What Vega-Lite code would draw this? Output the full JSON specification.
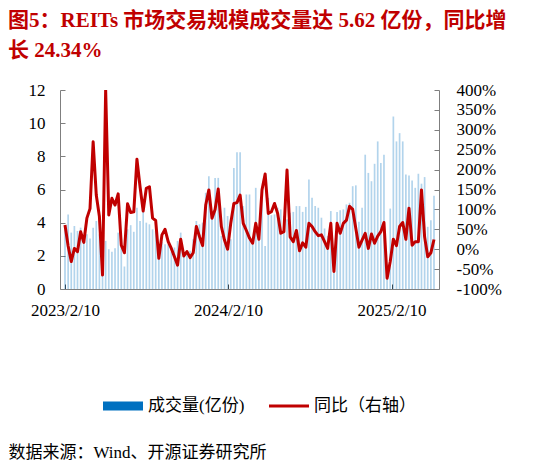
{
  "$schema": "https://vega.github.io/schema/vega-lite/v6.json",
  "width": 379,
  "height": 199,
  "autosize": {"type": "none"},
  "padding": {"left": 60, "top": 90, "right": 112, "bottom": 178},
  "background": "white",
  "title": {
    "text": ["图5：REITs 市场交易规模成交量达 5.62 亿份，同比增", "长 24.34%"],
    "anchor": "start",
    "frame": "group",
    "dx": -52,
    "offset": 20,
    "font": "Liberation Serif, Noto Sans CJK SC",
    "fontSize": 21,
    "fontWeight": "bold",
    "color": "#C00000",
    "lineHeight": 30
  },
  "data": {"values": [
    {"date": "2023-02-10", "vol": 3.6, "yoy": 61},
    {"date": "2023-02-17", "vol": 4.5, "yoy": 8},
    {"date": "2023-02-24", "vol": 3.4, "yoy": -31},
    {"date": "2023-03-03", "vol": 3.8, "yoy": 2},
    {"date": "2023-03-10", "vol": 3.5, "yoy": -6},
    {"date": "2023-03-17", "vol": 3.7, "yoy": 44},
    {"date": "2023-03-24", "vol": 3.2, "yoy": 17},
    {"date": "2023-03-31", "vol": 3.3, "yoy": 78},
    {"date": "2023-04-07", "vol": 3.05, "yoy": 102},
    {"date": "2023-04-14", "vol": 3.7, "yoy": 270},
    {"date": "2023-04-21", "vol": 4.1, "yoy": 136},
    {"date": "2023-04-28", "vol": 3.3, "yoy": 82},
    {"date": "2023-05-05", "vol": 2.6, "yoy": -65},
    {"date": "2023-05-12", "vol": 2.9, "yoy": 400},
    {"date": "2023-05-19", "vol": 2.4, "yoy": 86},
    {"date": "2023-05-26", "vol": 2.25, "yoy": 128},
    {"date": "2023-06-02", "vol": 2.45, "yoy": 111},
    {"date": "2023-06-09", "vol": 3.4, "yoy": 139},
    {"date": "2023-06-16", "vol": 3.0, "yoy": 10},
    {"date": "2023-06-23", "vol": 1.35, "yoy": -9},
    {"date": "2023-06-30", "vol": 3.6, "yoy": 114},
    {"date": "2023-07-07", "vol": 3.85, "yoy": 92},
    {"date": "2023-07-14", "vol": 3.45, "yoy": 94},
    {"date": "2023-07-21", "vol": 4.9, "yoy": 226},
    {"date": "2023-07-28", "vol": 4.1, "yoy": 157},
    {"date": "2023-08-04", "vol": 4.8, "yoy": 96},
    {"date": "2023-08-11", "vol": 4.0, "yoy": 153},
    {"date": "2023-08-18", "vol": 3.9, "yoy": 157},
    {"date": "2023-08-25", "vol": 3.6, "yoy": 78},
    {"date": "2023-09-01", "vol": 3.5, "yoy": 72},
    {"date": "2023-09-08", "vol": 2.45, "yoy": -23},
    {"date": "2023-09-15", "vol": 2.85, "yoy": 36},
    {"date": "2023-09-22", "vol": 2.7, "yoy": 50},
    {"date": "2023-09-29", "vol": 2.7, "yoy": 19},
    {"date": "2023-10-06", "vol": 2.25, "yoy": 2},
    {"date": "2023-10-13", "vol": 2.5, "yoy": -19},
    {"date": "2023-10-20", "vol": 2.9, "yoy": -40},
    {"date": "2023-10-27", "vol": 3.4, "yoy": 25},
    {"date": "2023-11-03", "vol": 2.0, "yoy": -17},
    {"date": "2023-11-10", "vol": 2.2, "yoy": -6},
    {"date": "2023-11-17", "vol": 2.3, "yoy": -21},
    {"date": "2023-11-24", "vol": 3.0, "yoy": -9},
    {"date": "2023-12-01", "vol": 4.1, "yoy": 57},
    {"date": "2023-12-08", "vol": 3.9, "yoy": 32},
    {"date": "2023-12-15", "vol": 4.0, "yoy": 9},
    {"date": "2023-12-22", "vol": 5.8, "yoy": 111},
    {"date": "2023-12-29", "vol": 6.8, "yoy": 149},
    {"date": "2024-01-05", "vol": 4.5, "yoy": 78},
    {"date": "2024-01-12", "vol": 6.7, "yoy": 100},
    {"date": "2024-01-19", "vol": 6.7, "yoy": 151},
    {"date": "2024-01-26", "vol": 3.2, "yoy": 57},
    {"date": "2024-02-02", "vol": 4.9, "yoy": 23},
    {"date": "2024-02-09", "vol": 4.4, "yoy": 0},
    {"date": "2024-02-16", "vol": 3.0, "yoy": 65},
    {"date": "2024-02-23", "vol": 7.3, "yoy": 115},
    {"date": "2024-03-01", "vol": 8.25, "yoy": 117},
    {"date": "2024-03-08", "vol": 8.25, "yoy": 136},
    {"date": "2024-03-15", "vol": 5.0, "yoy": 65},
    {"date": "2024-03-22", "vol": 5.7, "yoy": 47},
    {"date": "2024-03-29", "vol": 5.7, "yoy": 28},
    {"date": "2024-04-05", "vol": 3.0, "yoy": 15},
    {"date": "2024-04-12", "vol": 6.1, "yoy": 65},
    {"date": "2024-04-19", "vol": 3.2, "yoy": 25},
    {"date": "2024-04-26", "vol": 5.7, "yoy": 149},
    {"date": "2024-05-03", "vol": 2.6, "yoy": 189},
    {"date": "2024-05-10", "vol": 5.5, "yoy": 90},
    {"date": "2024-05-17", "vol": 4.45, "yoy": 94},
    {"date": "2024-05-24", "vol": 4.5, "yoy": 115},
    {"date": "2024-05-31", "vol": 4.9, "yoy": 90},
    {"date": "2024-06-07", "vol": 4.8, "yoy": 40},
    {"date": "2024-06-14", "vol": 4.4, "yoy": 44},
    {"date": "2024-06-21", "vol": 4.2, "yoy": 199},
    {"date": "2024-06-28", "vol": 4.6, "yoy": 31},
    {"date": "2024-07-05", "vol": 4.65, "yoy": 19},
    {"date": "2024-07-12", "vol": 5.0, "yoy": 47},
    {"date": "2024-07-19", "vol": 5.0, "yoy": -4},
    {"date": "2024-07-26", "vol": 4.65, "yoy": 16},
    {"date": "2024-08-02", "vol": 4.95, "yoy": 5},
    {"date": "2024-08-09", "vol": 6.6, "yoy": 65},
    {"date": "2024-08-16", "vol": 5.5, "yoy": 57},
    {"date": "2024-08-23", "vol": 5.0, "yoy": 44},
    {"date": "2024-08-30", "vol": 4.9, "yoy": 34},
    {"date": "2024-09-06", "vol": 4.3, "yoy": 36},
    {"date": "2024-09-13", "vol": 3.65, "yoy": 19},
    {"date": "2024-09-20", "vol": 3.2, "yoy": 2},
    {"date": "2024-09-27", "vol": 4.7, "yoy": 65},
    {"date": "2024-10-04", "vol": 1.0, "yoy": -56},
    {"date": "2024-10-11", "vol": 4.65, "yoy": 65},
    {"date": "2024-10-18", "vol": 4.75, "yoy": 40},
    {"date": "2024-10-25", "vol": 4.8, "yoy": 65},
    {"date": "2024-11-01", "vol": 5.1, "yoy": 73},
    {"date": "2024-11-08", "vol": 5.2, "yoy": 108},
    {"date": "2024-11-15", "vol": 6.2, "yoy": 100},
    {"date": "2024-11-22", "vol": 6.25, "yoy": 52},
    {"date": "2024-11-29", "vol": 4.05, "yoy": 5},
    {"date": "2024-12-06", "vol": 4.9, "yoy": 23},
    {"date": "2024-12-13", "vol": 8.1, "yoy": 40},
    {"date": "2024-12-20", "vol": 7.0, "yoy": 2},
    {"date": "2024-12-27", "vol": 6.5, "yoy": 38},
    {"date": "2025-01-03", "vol": 7.55, "yoy": 15},
    {"date": "2025-01-10", "vol": 8.9, "yoy": 33},
    {"date": "2025-01-17", "vol": 7.6, "yoy": 44},
    {"date": "2025-01-24", "vol": 8.1, "yoy": 67},
    {"date": "2025-01-31", "vol": 1.5, "yoy": -73},
    {"date": "2025-02-07", "vol": 4.85, "yoy": -31},
    {"date": "2025-02-14", "vol": 10.4, "yoy": 25},
    {"date": "2025-02-21", "vol": 8.9, "yoy": 9},
    {"date": "2025-02-28", "vol": 9.4, "yoy": 57},
    {"date": "2025-03-07", "vol": 8.9, "yoy": 67},
    {"date": "2025-03-14", "vol": 6.9, "yoy": 25},
    {"date": "2025-03-21", "vol": 6.85, "yoy": 103},
    {"date": "2025-03-28", "vol": 6.55, "yoy": 10},
    {"date": "2025-04-04", "vol": 6.1, "yoy": 19},
    {"date": "2025-04-11", "vol": 6.95, "yoy": 19},
    {"date": "2025-04-18", "vol": 6.35, "yoy": 149},
    {"date": "2025-04-25", "vol": 6.75, "yoy": 31},
    {"date": "2025-05-02", "vol": 3.75, "yoy": -19},
    {"date": "2025-05-09", "vol": 4.15, "yoy": -9},
    {"date": "2025-05-16", "vol": 5.62, "yoy": 24.34}
  ]},
  "layer": [
    {
      "mark": {"type": "bar", "size": 1.7, "opacity": 0.3, "clip": true},
      "encoding": {
        "x": {
          "field": "date",
          "type": "temporal",
          "scale": {"type": "utc", "domain": [{"year": 2023, "month": 2, "date": 10, "utc": true}, {"year": 2025, "month": 5, "date": 16, "utc": true}]},
          "axis": {
            "values": [{"year": 2023, "month": 2, "date": 10, "utc": true}, {"year": 2024, "month": 2, "date": 10, "utc": true}, {"year": 2025, "month": 2, "date": 10, "utc": true}],
            "format": "%Y/%-m/%-d",
            "labelFont": "Liberation Serif",
            "labelFontSize": 17,
            "labelColor": "black",
            "labelPadding": 18,
            "tickSize": -5,
            "tickColor": "#404040",
            "domainColor": "#7f7f7f",
            "grid": false,
            "title": "数据来源：Wind、开源证券研究所",
            "titleAnchor": "start",
            "titleAlign": "left",
            "titleX": -52,
            "titleY": 163,
            "titleBaseline": "middle",
            "titleFont": "Liberation Serif, Noto Sans CJK SC",
            "titleFontSize": 17,
            "titleFontWeight": "normal",
            "titleColor": "black"
          }
        },
        "y": {
          "field": "vol",
          "type": "quantitative",
          "scale": {"domain": [0, 12]},
          "axis": {
            "values": [0, 2, 4, 6, 8, 10, 12],
            "title": null,
            "grid": false,
            "labelFont": "Liberation Serif",
            "labelFontSize": 17,
            "labelColor": "black",
            "labelPadding": 20,
            "tickSize": -5,
            "tickColor": "#7f7f7f",
            "domainColor": "#7f7f7f"
          }
        },
        "color": {
          "datum": "成交量(亿份)",
          "scale": {"domain": ["成交量(亿份)", "同比（右轴）"], "range": ["#0070C0", "#C00000"]},
          "legend": {
            "orient": "none",
            "legendX": 43,
            "legendY": 296,
            "direction": "horizontal",
            "title": null,
            "labelFont": "Liberation Serif, Noto Sans CJK SC",
            "labelFontSize": 17,
            "labelColor": "black",
            "symbolSize": 1600,
            "symbolOpacity": 1,
            "labelOffset": 5,
            "columnPadding": 24,
            "encode": {
              "symbols": {
                "update": {
                  "shape": {"signal": "datum.value === '同比（右轴）' ? 'M-1,-0.07L1,-0.07L1,0.07L-1,0.07Z' : 'M-1,-0.225L1,-0.225L1,0.225L-1,0.225Z'"},
                  "fill": {"scale": "color", "field": "value"},
                  "opacity": {"value": 1},
                  "strokeWidth": {"value": 0}
                }
              }
            }
          }
        }
      }
    },
    {
      "mark": {"type": "line", "strokeWidth": 3, "strokeJoin": "round", "clip": true},
      "encoding": {
        "x": {"field": "date", "type": "temporal"},
        "y": {
          "field": "yoy",
          "type": "quantitative",
          "scale": {"domain": [-100, 400]},
          "axis": {
            "orient": "right",
            "values": [-100, -50, 0, 50, 100, 150, 200, 250, 300, 350, 400],
            "labelExpr": "datum.value + '%'",
            "title": null,
            "grid": false,
            "labelFont": "Liberation Serif",
            "labelFontSize": 17,
            "labelColor": "black",
            "labelPadding": 22,
            "tickSize": -5,
            "tickColor": "#7f7f7f",
            "domainColor": "#7f7f7f"
          }
        },
        "color": {"datum": "同比（右轴）"}
      }
    }
  ],
  "resolve": {"scale": {"y": "independent"}},
  "config": {"view": {"stroke": null}}
}
